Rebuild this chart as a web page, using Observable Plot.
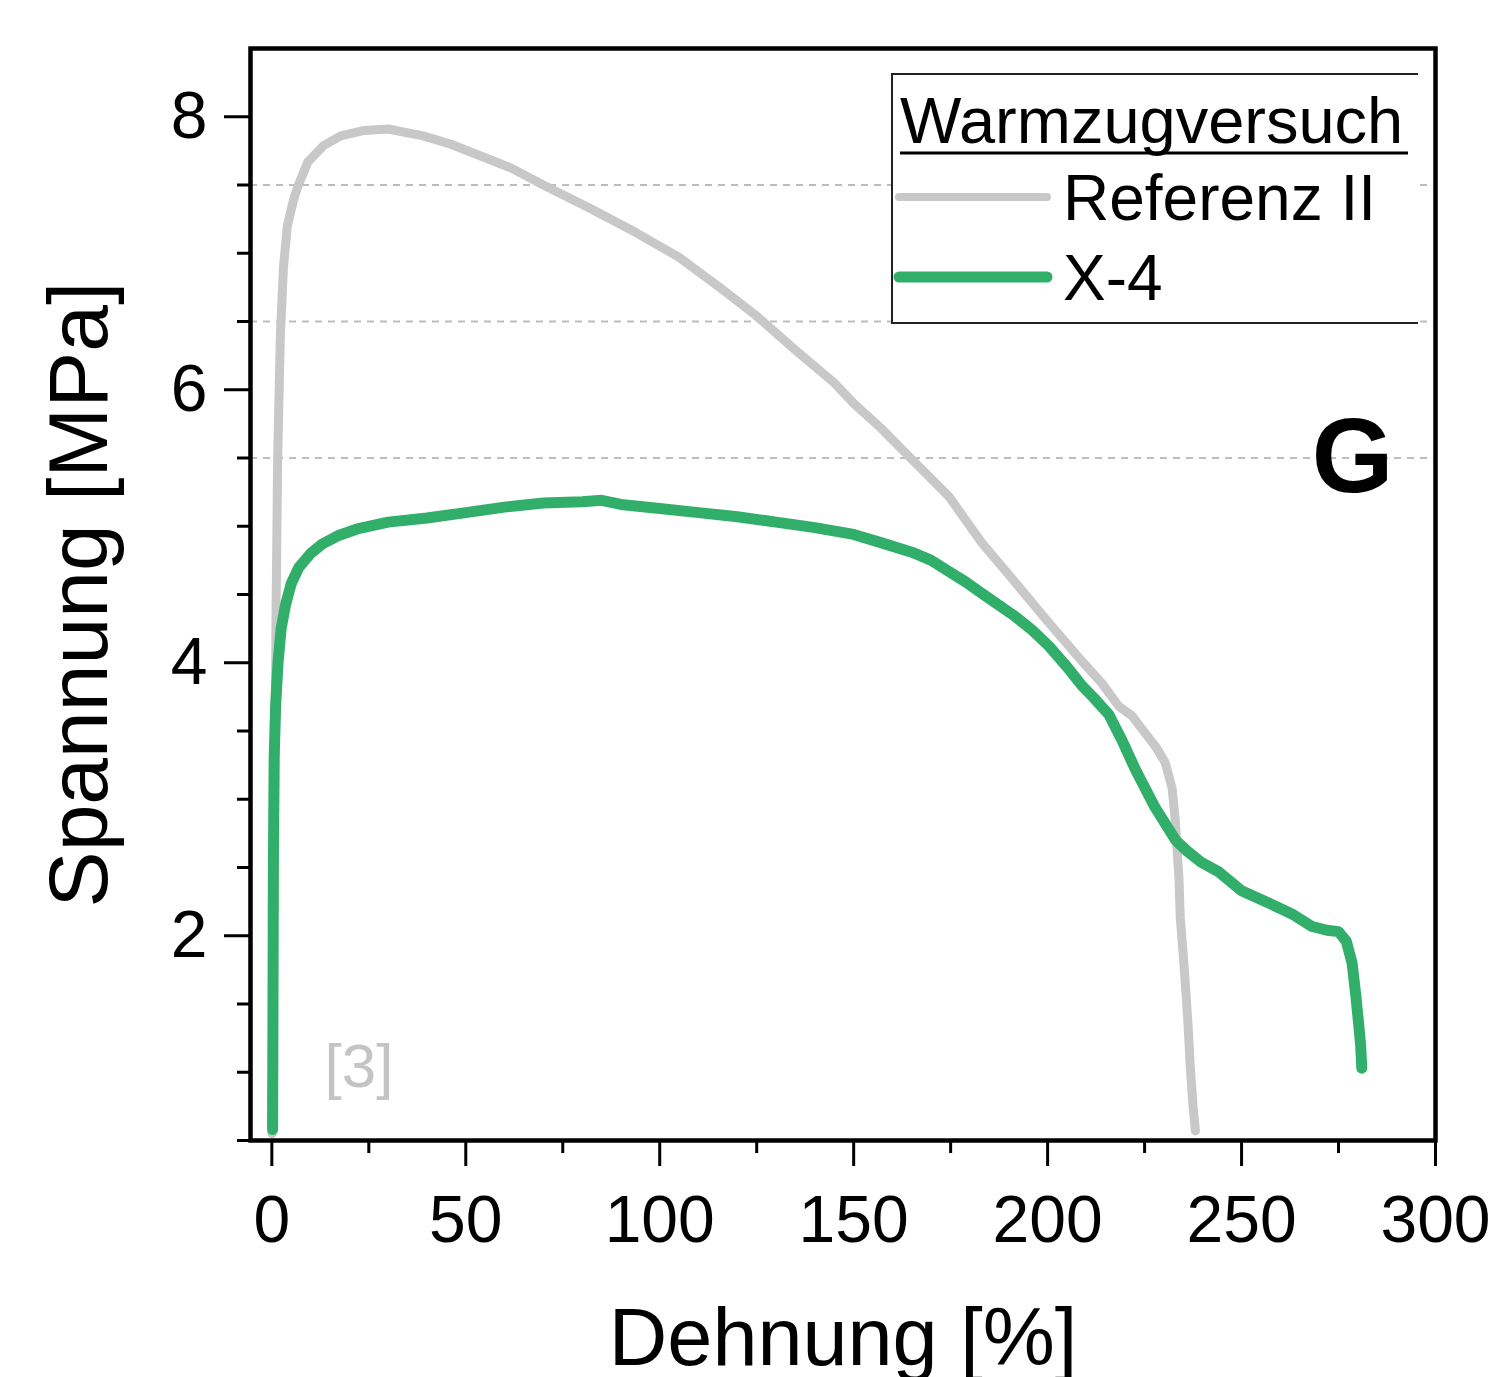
<!DOCTYPE html>
<html><head><meta charset="utf-8">
<script src="https://cdn.jsdelivr.net/npm/d3@7"></script>
<script src="https://cdn.jsdelivr.net/npm/@observablehq/plot@0.6"></script>
<style>
body{margin:0;background:#fff;font-family:"Liberation Sans",Arial,sans-serif;}
#wrap{position:relative;width:1497px;height:1377px;}
#legend{position:absolute;left:891px;top:73px;width:527px;height:251px;box-sizing:border-box;border-top:2px solid #222;border-left:2px solid #222;border-bottom:2px solid #222;background:#fff;}
#legend svg{position:absolute;left:-2px;top:-2px;overflow:visible;}
</style></head><body><div id="wrap"></div>
<script>
// ---- data ----
const seriesNames = ["Referenz II", "X-4"];
const legendTitle = "Warmzugversuch";
const strainRef = [0, 0.4, 0.8, 1.1, 1.5, 2.2, 3.0, 4.0, 5.5, 6.7, 9.3, 13.4, 17.8, 23.8, 30, 39, 46, 55, 62, 70, 82, 94, 105, 115, 125, 135, 145, 150, 157, 165, 174.5, 183, 191.6, 200.4, 208.9, 214, 218.4, 221.8, 225, 228, 230.3, 232.1, 232.9, 233.4, 233.9, 234.2, 235, 235.5, 236.2, 236.8, 237.5, 238.1];
const stressRef = [0.55, 1.8, 3.3, 4.4, 5.5, 6.4, 6.9, 7.2, 7.38, 7.49, 7.67, 7.79, 7.86, 7.90, 7.91, 7.86, 7.80, 7.70, 7.62, 7.50, 7.33, 7.15, 6.97, 6.76, 6.54, 6.29, 6.05, 5.90, 5.72, 5.49, 5.22, 4.88, 4.59, 4.29, 4.01, 3.85, 3.68, 3.61, 3.49, 3.38, 3.27, 3.08, 2.85, 2.63, 2.40, 2.13, 1.85, 1.65, 1.35, 1.03, 0.75, 0.57];
const strainX4 = [0.2, 0.3, 0.4, 0.6, 1.0, 1.6, 2.4, 3.5, 5, 7, 10, 13, 17, 22, 30, 40, 50, 60, 70, 80, 85, 90, 100, 110, 120, 130, 140, 150, 157, 165, 170, 174.5, 179, 183, 187, 191.6, 196, 200.4, 205, 208.9, 212, 215.8, 219.2, 222.6, 227.5, 233, 236, 239.5, 244, 250, 257, 263, 268, 272, 275, 277, 278.5, 279.5, 280.2, 280.7, 281];
const stressX4 = [0.58, 1.5, 2.5, 3.3, 3.7, 4.0, 4.25, 4.42, 4.58, 4.70, 4.80, 4.87, 4.93, 4.98, 5.03, 5.06, 5.10, 5.14, 5.17, 5.18, 5.19, 5.16, 5.13, 5.10, 5.07, 5.03, 4.99, 4.94, 4.88, 4.81, 4.75, 4.67, 4.59, 4.51, 4.43, 4.34, 4.24, 4.12, 3.97, 3.83, 3.74, 3.62, 3.43, 3.22, 2.95, 2.70, 2.62, 2.54, 2.47, 2.33, 2.24, 2.16, 2.07, 2.04, 2.03, 1.96, 1.80, 1.55, 1.35, 1.2, 1.03];
const xMajorTicks = [0, 50, 100, 150, 200, 250, 300];
const xMinorTicks = [25, 75, 125, 175, 225, 275];
const yMajorTicks = [2, 4, 6, 8];
const yMinorTicks = [0.5, 1, 1.5, 2.5, 3, 3.5, 4.5, 5, 5.5, 6.5, 7, 7.5];
const gridStress = [5.5, 6.5, 7.5];
const xTitle = "Dehnung [%]";
const yTitle = "Spannung [MPa]";
const panelLetter = "G";
const sourceNote = "[3]";
const colors = ["#c8c8c8", "#32ae6b"];

const refData = strainRef.map((s, i) => ({strain: s, stress: stressRef[i]}));
const x4Data = strainX4.map((s, i) => ({strain: s, stress: stressX4[i]}));

const font = "Liberation Sans, Arial, sans-serif";
const plot = Plot.plot({
  width: 1497, height: 1377,
  marginLeft: 250, marginRight: 62, marginTop: 48, marginBottom: 237,
  style: {fontFamily: font, color: "#000", background: "#fff"},
  x: {domain: [-5.5, 300], label: null},
  y: {domain: [0.5, 8.5], label: null},
  marks: [
    Plot.ruleY(gridStress, {stroke: "#bdbdbd", strokeWidth: 2, strokeDasharray: "7,6"}),
    Plot.line(refData, {x: "strain", y: "stress", stroke: colors[0], strokeWidth: 9, strokeLinejoin: "round", strokeLinecap: "round"}),
    Plot.line(x4Data, {x: "strain", y: "stress", stroke: colors[1], strokeWidth: 11, strokeLinejoin: "round", strokeLinecap: "round"}),
    Plot.frame({stroke: "#000", strokeWidth: 4.5}),
    Plot.axisX(xMajorTicks, {tickSize: 26, tickPadding: 29, fontSize: 66, strokeWidth: 3, tickFormat: d => String(d), label: null}),
    Plot.axisX(xMinorTicks, {tickSize: 13, tickFormat: () => "", strokeWidth: 3, label: null}),
    Plot.axisY(yMajorTicks, {tickSize: 26, tickPadding: 17, fontSize: 66, strokeWidth: 3, tickFormat: d => String(d), label: null}),
    Plot.axisY(yMinorTicks, {tickSize: 13, tickFormat: () => "", strokeWidth: 3, label: null}),
    Plot.text([xTitle], {text: d => d, frameAnchor: "bottom", dy: 199, fontSize: 81, textAnchor: "middle", lineAnchor: "middle"}),
    Plot.text([yTitle], {text: d => d, frameAnchor: "left", dx: -170, rotate: -90, fontSize: 84, textAnchor: "middle", lineAnchor: "middle"}),
    Plot.text([panelLetter], {text: d => d, frameAnchor: "right", dx: -42, dy: -136, textAnchor: "end", fontWeight: "bold", fontSize: 105, lineAnchor: "middle"}),
    Plot.text([sourceNote], {text: d => d, frameAnchor: "bottom-left", dx: 74, dy: -73, textAnchor: "start", fill: "#c4c4c4", fontSize: 62, lineAnchor: "middle"})
  ]
});
const wrap = document.getElementById("wrap");
wrap.appendChild(plot);

// legend overlay
const leg = document.createElement("div");
leg.id = "legend";
const ns = "http://www.w3.org/2000/svg";
const lsvg = document.createElementNS(ns, "svg");
lsvg.setAttribute("width", 527); lsvg.setAttribute("height", 251);
lsvg.style.fontFamily = font;
function el(tag, attrs, txt) {
  const e = document.createElementNS(ns, tag);
  for (const k in attrs) e.setAttribute(k, attrs[k]);
  if (txt) e.textContent = txt;
  lsvg.appendChild(e); return e;
}
el("text", {x: 9, y: 70, "font-size": 65, fill: "#000"}, legendTitle);
el("line", {x1: 9, x2: 517, y1: 80, y2: 80, stroke: "#000", "stroke-width": 3});
const rows = [124, 204];
seriesNames.forEach((name, i) => {
  el("line", {x1: 8, x2: 156, y1: rows[i], y2: rows[i], stroke: colors[i], "stroke-width": i ? 11 : 8, "stroke-linecap": "round"});
  el("text", {x: 172, y: rows[i] + 23, "font-size": 64, fill: "#000"}, name);
});
leg.appendChild(lsvg);
wrap.appendChild(leg);
</script></body></html>
